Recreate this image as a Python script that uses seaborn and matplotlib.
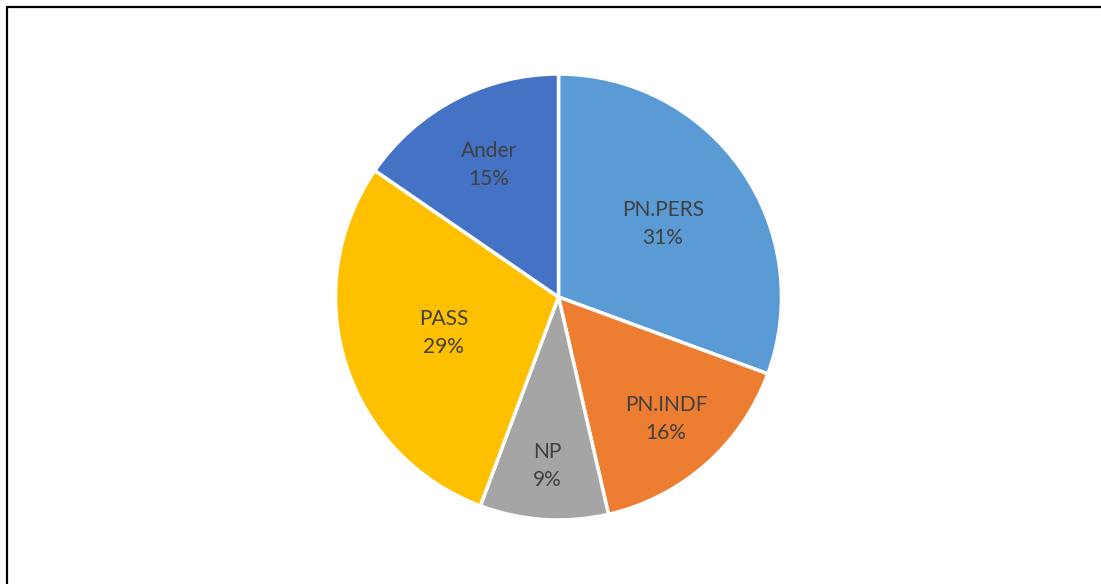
import numpy as np
import matplotlib
matplotlib.use("Agg")
import matplotlib.pyplot as plt
import seaborn as sns
from matplotlib.lines import Line2D

# data (shares in %)
categories = ["PN.PERS", "PN.INDF", "NP", "PASS", "Ander"]
shares = [30.6, 15.8, 9.3, 28.9, 15.4]
colors = ["#5B9BD5", "#ED7D31", "#A5A5A5", "#FFC000", "#4472C4"]
# label placement (fraction of radius), roughly Excel's best fit
label_dist = [0.57, 0.73, 0.76, 0.54, 0.67]

sns.set_theme(style="white")
plt.rcParams["font.family"] = ["Lato", "DejaVu Sans"]

W, H = 1101, 584
fig = plt.figure(figsize=(W / 100, H / 100), dpi=100)
cx, cy, r = 558.5, 297, 223
ax = fig.add_axes([(cx - r) / W, (H - cy - r) / H, 2 * r / W, 2 * r / H])

wedges, _ = ax.pie(shares, colors=colors, startangle=90, counterclock=False,
                   wedgeprops=dict(edgecolor="white", linewidth=2.5))
ax.set_xlim(-1, 1)
ax.set_ylim(-1, 1)
ax.set_aspect("equal")
ax.axis("off")

total = sum(shares)
for w, name, val, d in zip(wedges, categories, shares, label_dist):
    ang = np.deg2rad((w.theta1 + w.theta2) / 2)
    ax.text(d * np.cos(ang), d * np.sin(ang), f"{name}\n{round(100 * val / total)}%",
            ha="center", va="center", fontsize=15, color="#404040",
            linespacing=1.5)

# chart frame (only top and left visible)
fig.add_artist(Line2D([7 / W, 7 / W], [0, 1 - 7 / H], color="black", lw=1.6,
                      transform=fig.transFigure))
fig.add_artist(Line2D([7 / W, 1], [1 - 7 / H, 1 - 7 / H], color="black", lw=1.6,
                      transform=fig.transFigure))

fig.savefig("out.png", dpi=100, facecolor="white")
